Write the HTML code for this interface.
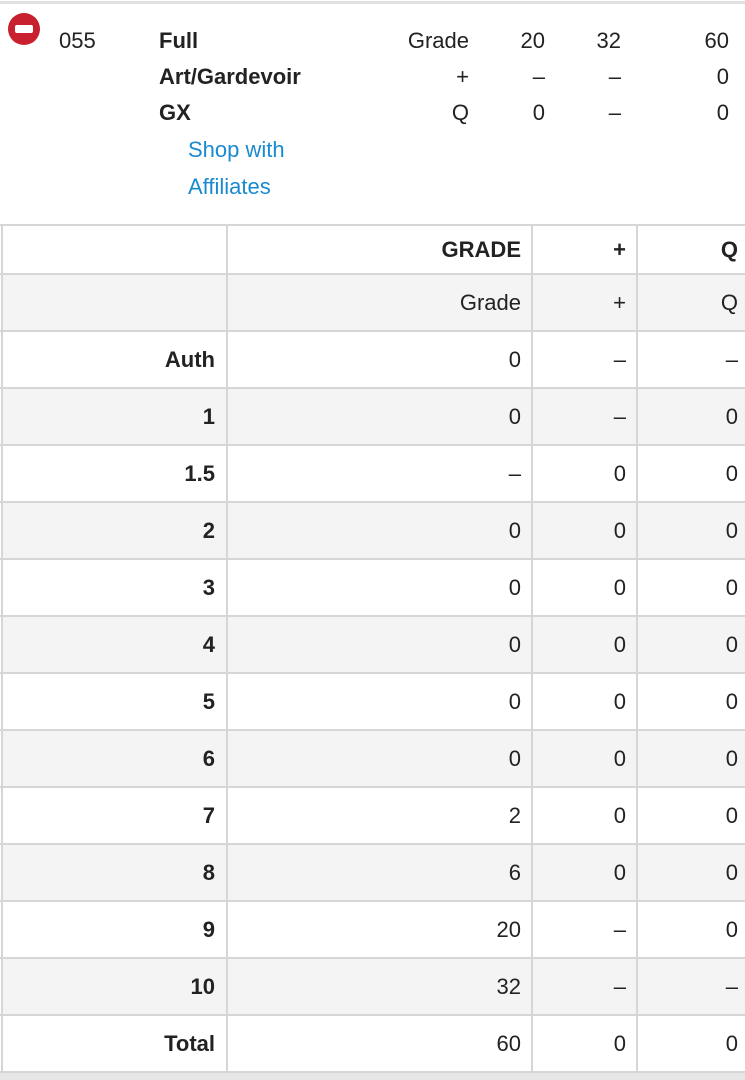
<!DOCTYPE html>
<html><head><style>
body{margin:0;width:745px;height:1080px;background:#fff;font-family:"Liberation Sans",sans-serif;color:#222;position:relative;overflow:hidden}
.t{position:absolute;font-size:22px;line-height:26px;white-space:nowrap}
.r{text-align:right}
.b{font-weight:bold}
.hl{position:absolute;left:0;width:745px;height:2px;background:#d6d6d6}
.vl{position:absolute;width:2px;background:#d6d6d6;top:225px;height:849px}
.bg{position:absolute;left:2px;width:745px;height:55px;background:#f4f4f4}
</style></head><body>
<div class="hl" style="top:1px;height:3px;background:#e0e0e0"></div>
<div style="position:absolute;left:8px;top:13px;width:32px;height:32px;border-radius:50%;background:#c8202e"></div>
<div style="position:absolute;left:15px;top:25px;width:18px;height:8px;border-radius:2px;background:#fff"></div>
<div class="t" style="left:59px;top:28px">055</div>
<div class="t b" style="left:159px;top:28px">Full</div>
<div class="t b" style="left:159px;top:64px">Art/Gardevoir</div>
<div class="t b" style="left:159px;top:100px">GX</div>
<div class="t" style="left:188px;top:137px;color:#1a8ad0">Shop with</div>
<div class="t" style="left:188px;top:174px;color:#1a8ad0">Affiliates</div>
<div class="t r" style="right:276px;top:28px">Grade</div>
<div class="t r" style="right:200px;top:28px">20</div>
<div class="t r" style="right:124px;top:28px">32</div>
<div class="t r" style="right:16px;top:28px">60</div>
<div class="t r" style="right:276px;top:64px">+</div>
<div class="t r" style="right:200px;top:64px">–</div>
<div class="t r" style="right:124px;top:64px">–</div>
<div class="t r" style="right:16px;top:64px">0</div>
<div class="t r" style="right:276px;top:100px">Q</div>
<div class="t r" style="right:200px;top:100px">0</div>
<div class="t r" style="right:124px;top:100px">–</div>
<div class="t r" style="right:16px;top:100px">0</div>
<div id="tbl"></div>
<div style="position:absolute;left:0;top:1073px;width:745px;height:7px;background:#e6e6e6"></div>
<script>
(function(){
var rows=[["","Grade","+","Q"],["Auth","0","–","–"],["1","0","–","0"],["1.5","–","0","0"],["2","0","0","0"],["3","0","0","0"],["4","0","0","0"],["5","0","0","0"],["6","0","0","0"],["7","2","0","0"],["8","6","0","0"],["9","20","–","0"],["10","32","–","–"],["Total","60","0","0"]];
var h='';
var ys=[225,274];for(var i=1;i<=14;i++)ys.push(274+57*i);
for(var r=0;r<rows.length;r++){var yy=ys[r+1];if(r%2==0)h+='<div class="bg" style="top:'+(yy+1)+'px"></div>';}
for(var i=0;i<ys.length;i++)h+='<div class="hl" style="top:'+(ys[i]-1)+'px"></div>';
[1,226,531,636].forEach(function(x){h+='<div class="vl" style="left:'+x+'px"></div>'});
h+='<div class="t b r" style="right:224px;top:237px">GRADE</div><div class="t b r" style="right:119px;top:237px">+</div><div class="t b r" style="right:7px;top:237px">Q</div>';
for(var r=0;r<rows.length;r++){var yy=ys[r+1];
var ty=yy+16;var d=rows[r];
h+='<div class="t b r" style="right:530px;top:'+ty+'px">'+d[0]+'</div>';
h+='<div class="t r" style="right:224px;top:'+ty+'px">'+d[1]+'</div>';
h+='<div class="t r" style="right:119px;top:'+ty+'px">'+d[2]+'</div>';
h+='<div class="t r" style="right:7px;top:'+ty+'px">'+d[3]+'</div>';}
document.getElementById('tbl').innerHTML=h;
})();
</script>
</body></html>
